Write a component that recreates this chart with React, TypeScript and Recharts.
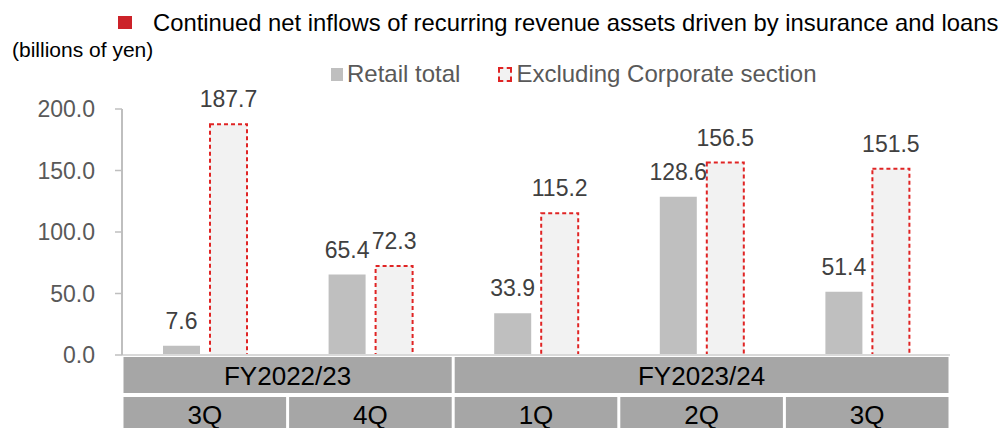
import { Bar, BarChart, LabelList, Legend, XAxis, YAxis } from 'recharts';

const quarters = ['3Q', '4Q', '1Q', '2Q', '3Q'];
const fiscalYears = ['FY2022/23', 'FY2022/23', 'FY2023/24', 'FY2023/24', 'FY2023/24'];
const retailTotal = [7.6, 65.4, 33.9, 128.6, 51.4];
const excludingCorporate = [187.7, 72.3, 115.2, 156.5, 151.5];
const yTicks = [0, 50, 100, 150, 200];

const data = quarters.map((q, i) => ({
  q,
  fy: fiscalYears[i],
  retail: retailTotal[i],
  excl: excludingCorporate[i],
}));

const FONT = '"Liberation Sans", Arial, sans-serif';
const CHART_W = 1007;
const CHART_H = 428;
const PLOT_LEFT = 122;
const PLOT_RIGHT = 950;
const BAND = (PLOT_RIGHT - PLOT_LEFT) / quarters.length;
const CELL = '#a6a6a6';
const RED = '#e02424';

function TableTick(props: any) {
  const { x, y, index } = props;
  const left = x - BAND / 2;
  const isGroupStart = index === 0 || fiscalYears[index] !== fiscalYears[index - 1];
  let span = 0;
  if (isGroupStart) {
    while (index + span < fiscalYears.length && fiscalYears[index + span] === fiscalYears[index]) span++;
  }
  return (
    <g>
      {isGroupStart && (
        <g>
          <rect x={left + 1.5} y={y + 2} width={BAND * span - 3} height={36} fill={CELL} />
          <text
            x={left + (BAND * span) / 2}
            y={y + 30}
            textAnchor="middle"
            fontSize={26}
            fontFamily={FONT}
            fill="#000"
          >
            {fiscalYears[index]}
          </text>
        </g>
      )}
      <rect x={left + 1.5} y={y + 42} width={BAND - 3} height={40} fill={CELL} />
      <text x={x} y={y + 69} textAnchor="middle" fontSize={26} fontFamily={FONT} fill="#000">
        {quarters[index]}
      </text>
    </g>
  );
}

function LegendContent() {
  return (
    <div style={{ display: 'flex', alignItems: 'center', fontFamily: FONT, fontSize: 24, color: '#595959' }}>
      <span style={{ width: 12, height: 13, background: '#bfbfbf', display: 'inline-block', marginRight: 4 }} />
      <span style={{ marginRight: 38 }}>Retail total</span>
      <span
        style={{
          width: 10,
          height: 11,
          background: '#f2f2f2',
          border: `2px dashed ${RED}`,
          display: 'inline-block',
          marginRight: 4,
        }}
      />
      <span>Excluding Corporate section</span>
    </div>
  );
}

export default function App() {
  return (
    <div style={{ position: 'absolute', left: 0, top: 0, width: CHART_W, height: CHART_H, background: '#fff' }}>
      <svg width={CHART_W} height={100} style={{ position: 'absolute', left: 0, top: 0 }}>
        <rect x={118} y={16} width={14} height={13} fill="#cc2229" />
        <text x={153} y={31} fontSize={23.8} fontFamily={FONT} fill="#000">
          Continued net inflows of recurring revenue assets driven by insurance and loans
        </text>
        <text x={12} y={57} fontSize={21} fontFamily={FONT} fill="#000">
          (billions of yen)
        </text>
      </svg>
      <BarChart
        width={CHART_W}
        height={CHART_H}
        data={data}
        margin={{ top: 109, right: CHART_W - PLOT_RIGHT, left: PLOT_LEFT - 80, bottom: 0 }}
        barSize={37}
        barGap={10}
      >
        <XAxis
          dataKey="q"
          height={73}
          tickSize={0}
          tickMargin={0}
          axisLine={{ stroke: '#d9d9d9', strokeWidth: 2 }}
          tickLine={false}
          tick={<TableTick />}
          interval={0}
        />
        <YAxis
          width={80}
          domain={[0, 200]}
          ticks={yTicks}
          tickFormatter={(v: number) => v.toFixed(1)}
          tick={{ fontSize: 23, fill: '#595959', fontFamily: FONT }}
          tickSize={7}
          tickMargin={20}
          axisLine={{ stroke: '#bfbfbf', strokeWidth: 2 }}
          tickLine={{ stroke: '#bfbfbf', strokeWidth: 1.5 }}
        />
        <Legend
          layout="horizontal"
          verticalAlign="middle"
          align="center"
          content={<LegendContent />}
          wrapperStyle={{ position: 'absolute', top: 60, left: 331, width: 'auto' }}
        />
        <Bar dataKey="retail" name="Retail total" fill="#bfbfbf" isAnimationActive={false}>
          <LabelList
            dataKey="retail"
            position="top"
            offset={17}
            formatter={(v: any) => Number(v).toFixed(1)}
            style={{ fontSize: 23, fill: '#404040', fontFamily: FONT }}
          />
        </Bar>
        <Bar
          dataKey="excl"
          name="Excluding Corporate section"
          fill="#f2f2f2"
          stroke={RED}
          strokeWidth={2}
          strokeDasharray="4 3"
          isAnimationActive={false}
        >
          <LabelList
            dataKey="excl"
            position="top"
            offset={17}
            formatter={(v: any) => Number(v).toFixed(1)}
            style={{ fontSize: 23, fill: '#404040', fontFamily: FONT }}
          />
        </Bar>
      </BarChart>
    </div>
  );
}
